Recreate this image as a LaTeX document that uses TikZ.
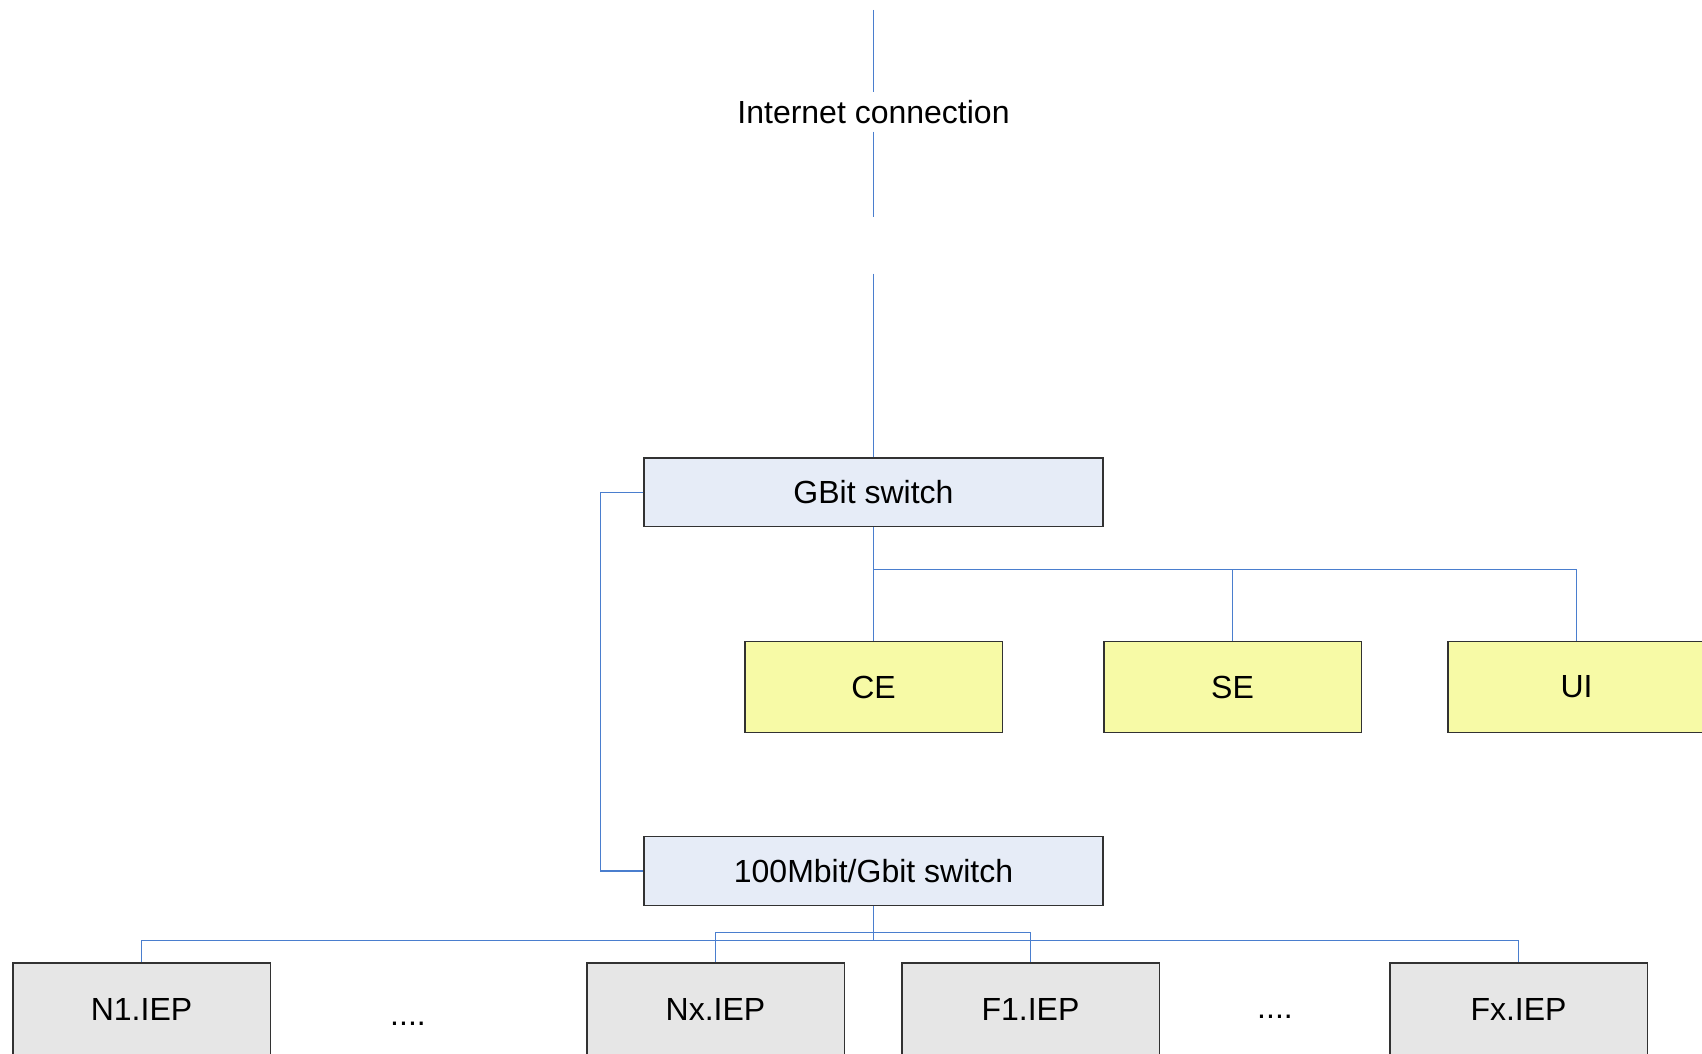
\documentclass[tikz,border=0pt]{standalone}
\usepackage{fontspec}
\setmainfont{Liberation Sans}
\definecolor{linkblue}{RGB}{74,126,206}
\definecolor{swfill}{RGB}{230,236,247}
\definecolor{ylfill}{RGB}{247,250,166}
\definecolor{gyfill}{RGB}{230,230,230}
\definecolor{edge}{RGB}{50,50,50}
\tikzset{
  lbl/.style={font=\fontsize{32}{38}\selectfont, text=black},
  box/.style={lbl, draw=edge, line width=1.3pt, inner sep=0pt, anchor=center},
  switchbox/.style={box, fill=swfill, minimum width=459pt, minimum height=68.5pt},
  svcbox/.style={box, fill=ylfill, minimum width=257.3pt, minimum height=91pt},
  iepbox/.style={box, fill=gyfill, minimum width=257.3pt, minimum height=93pt},
  conn/.style={draw=linkblue, line width=1.1pt}
}
\begin{document}
\begin{tikzpicture}[x=1pt,y=-1pt]
\useasboundingbox (0,0) rectangle (1702,1054);
% internet connection
\coordinate (t0) at (873.5,10);
\node[lbl, inner sep=0pt, minimum height=39pt] (inet) at (873.5,112) {Internet connection};
\coordinate (t1) at (873.5,217);
\coordinate (t2) at (873.5,273.5);
% switches
\node[switchbox] (gbit) at (873.5,492.3) {GBit switch};
\node[switchbox] (sw) at (873.5,871) {100Mbit/Gbit switch};
% services
\node[svcbox] (ce) at (873.5,687) {CE};
\node[svcbox] (se) at (1232.5,687) {SE};
\node[svcbox] (ui) at (1576.5,687) {UI};
% endpoints
\node[iepbox] (n1) at (141.5,1009.5) {N1.IEP};
\node[iepbox] (nx) at (715.5,1009.5) {Nx.IEP};
\node[iepbox] (f1) at (1030.5,1009.5) {F1.IEP};
\node[iepbox] (fx) at (1518.5,1009.5) {Fx.IEP};
\node[lbl, anchor=base] (d1) at (408,1025.5) {....};
\node[lbl, anchor=base] (d2) at (1275,1018.5) {....};
% connectors
\draw[conn] (t0) -- (inet.north);
\draw[conn] (inet.south) -- (t1);
\draw[conn] (t2) -- (gbit.north);
\coordinate (gb) at (873.5,569.5);
\draw[conn] (gbit.south) -- (ce.north);
\draw[conn] (gb) -| (se.north);
\draw[conn] (gb) -| (ui.north);
\draw[conn] (gbit.west) -- ++(-42.5,0) |- (sw.west);
\coordinate (sb) at (873.5,940.5);
\coordinate (sa) at (873.5,932.5);
\draw[conn] (sw.south) -- (sb);
\draw[conn] (sb) -| (n1.north);
\draw[conn] (sb) -| (fx.north);
\draw[conn] (sa) -| (nx.north);
\draw[conn] (sa) -| (f1.north);
\end{tikzpicture}
\end{document}
